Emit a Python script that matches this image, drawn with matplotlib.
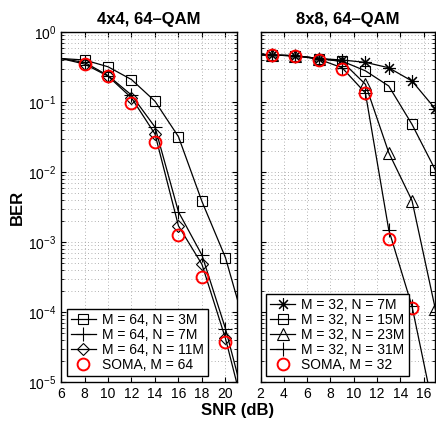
import numpy as np
import matplotlib.pyplot as plt

plt.rcParams['font.family'] = ['Liberation Sans', 'DejaVu Sans']
plt.rcParams['mathtext.fontset'] = 'custom'
plt.rcParams['mathtext.rm'] = 'Liberation Sans'

# ----------------------------
# Data: 4x4, 64-QAM
# ----------------------------
snr_4x4 = [6, 8, 10, 12, 14, 16, 18, 20, 22]
ber_64_3M = [0.42, 0.40, 0.32, 0.21, 0.103, 0.032, 0.0038, 6.0e-4, 4.0e-5]
ber_64_7M = [0.42, 0.37, 0.24, 0.126, 0.044, 2.7e-3, 6.5e-4, 5.8e-5, 3.0e-6]
ber_64_11M = [0.42, 0.35, 0.235, 0.115, 0.035, 1.7e-3, 4.8e-4, 4.2e-5, 2.0e-6]
snr_soma64 = [8, 10, 12, 14, 16, 18, 20]
ber_soma64 = [0.35, 0.235, 0.097, 0.027, 1.25e-3, 3.2e-4, 3.7e-5]

# ----------------------------
# Data: 8x8, 64-QAM
# ----------------------------
snr_8x8 = [1, 3, 5, 7, 9, 11, 13, 15, 17]
ber_32_7M = [0.48, 0.47, 0.46, 0.42, 0.40, 0.37, 0.31, 0.20, 0.08]
ber_32_15M = [0.48, 0.47, 0.46, 0.42, 0.385, 0.28, 0.17, 0.048, 0.0107]
ber_32_23M = [0.48, 0.47, 0.46, 0.42, 0.38, 0.18, 0.019, 3.9e-3, 1.1e-4]
ber_32_31M = [0.48, 0.47, 0.46, 0.41, 0.31, 0.135, 1.5e-3, 1.2e-4, 3.0e-6]
snr_soma32 = [3, 5, 7, 9, 11, 13, 15]
ber_soma32 = [0.47, 0.45, 0.40, 0.30, 0.134, 1.1e-3, 1.15e-4]

fig = plt.figure(figsize=(4.36, 4.23), dpi=100)
ax1 = fig.add_axes([0.140, 0.097, 0.404, 0.827])
ax2 = fig.add_axes([0.5975, 0.097, 0.401, 0.827])

mk = dict(color='black', markerfacecolor='none', markeredgecolor='black',
          markersize=7, linewidth=0.9, markeredgewidth=0.8, markevery=slice(1, None))
red = dict(linestyle='none', marker='o', markerfacecolor='none', markeredgecolor='red',
           markersize=8.5, markeredgewidth=1.4)

ax1.semilogy(snr_4x4, ber_64_3M, marker='s', label='M = 64, N = 3M', **mk)
ax1.semilogy(snr_4x4, ber_64_7M, marker='+', label='M = 64, N = 7M', **{**mk, 'markersize': 9.5})
ax1.semilogy(snr_4x4, ber_64_11M, marker='D', label='M = 64, N = 11M', **{**mk, 'markersize': 6.5})
ax1.semilogy(snr_soma64, ber_soma64, label='SOMA, M = 64', **red)

ax2.semilogy(snr_8x8, ber_32_7M, marker=(8, 2, 0), label='M = 32, N = 7M', **{**mk, 'markersize': 9})
ax2.semilogy(snr_8x8, ber_32_15M, marker='s', label='M = 32, N = 15M', **mk)
ax2.semilogy(snr_8x8, ber_32_23M, marker='^', label='M = 32, N = 23M', **{**mk, 'markersize': 9})
ax2.semilogy(snr_8x8, ber_32_31M, marker='+', label='M = 32, N = 31M', **{**mk, 'markersize': 9.5})
ax2.semilogy(snr_soma32, ber_soma32, label='SOMA, M = 32', **red)

ax1.set_xlim(6, 21)
ax1.set_xticks(range(6, 21, 2))
ax2.set_xlim(2, 17)
ax2.set_xticks(range(2, 17, 2))

for ax in (ax1, ax2):
    ax.set_ylim(1e-5, 1)
    ax.grid(True, which='major', linestyle=(0, (1, 3)), color='#999999', linewidth=0.6)
    ax.grid(True, which='minor', axis='y', linestyle=(0, (1, 3)), color='#999999', linewidth=0.6)
    ax.tick_params(which='both', direction='in', top=True, right=True, labelsize=10)
    for s in ax.spines.values():
        s.set_linewidth(1.0)
    leg = ax.legend(loc='lower left', fontsize=10, fancybox=False, edgecolor='black',
                    framealpha=1, handlelength=1.8, borderpad=0.3, labelspacing=0.08,
                    handletextpad=0.45, borderaxespad=0.4)
    leg.get_frame().set_linewidth(1.0)

ax2.set_yticklabels([])
ax2.tick_params(which='minor', labelleft=False)

ax1.set_title('4x4, 64–QAM', fontsize=12, fontweight='bold', pad=6)
ax2.set_title('8x8, 64–QAM', fontsize=12, fontweight='bold', pad=6)
ax1.set_ylabel('BER', fontsize=12, fontweight='bold', labelpad=2)
fig.text(0.545, 0.02, 'SNR (dB)', ha='center', fontsize=12, fontweight='bold')

fig.savefig('out.png', dpi=100)
